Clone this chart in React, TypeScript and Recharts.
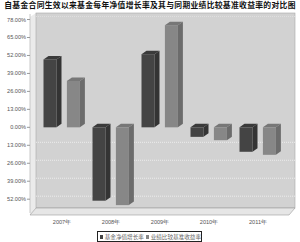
import { BarChart, Bar, XAxis, YAxis, CartesianGrid } from "recharts";

const years = ["2007年", "2008年", "2009年", "2010年", "2011年"];
const fundGrowth = [49.1, -53.1, 52.9, -6.9, -17.7];
const benchmark = [33.6, -56.3, 73.9, -9.3, -19.9];
const yTicks = [78, 65, 52, 39, 26, 13, 0, -13, -26, -39, -52];
const gridValues = [78, -13, -26, -39, -52];

const title = "自基金合同生效以来基金每年净值增长率及其与同期业绩比较基准收益率的对比图";
const seriesNames = ["基金净值增长率", "业绩比较基准收益率"];

const chartData = years.map((year, i) => ({
  year,
  fund: fundGrowth[i],
  bench: benchmark[i],
}));

const DX = 5;
const DY = 3.5;

function makeBox(front: string, top: string, side: string) {
  return (props: any) => {
    const { x, y, width, height } = props;
    const t = Math.min(y, y + height);
    const h = Math.abs(height);
    const w = width;
    return (
      <g>
        <rect x={x} y={t} width={w} height={h} fill={front} />
        <polygon
          points={`${x},${t} ${x + DX},${t - DY} ${x + w + DX},${t - DY} ${x + w},${t}`}
          fill={top}
        />
        <polygon
          points={`${x + w},${t} ${x + w + DX},${t - DY} ${x + w + DX},${t + h - DY} ${x + w},${t + h}`}
          fill={side}
        />
      </g>
    );
  };
}

const darkBox = makeBox("#444444", "#3a3a3a", "#343434");
const lightBox = makeBox("#878787", "#777777", "#6c6c6c");

const tickFont = { fontSize: 5.6, fill: "#555", fontFamily: "Liberation Sans, Arial, sans-serif" };

// grid lines sit on the back wall, a few px up from the front plane
const gridLine = (p: any) => {
  const isTop = p.index === 0;
  return (
    <line
      key={`g-${p.index}`}
      x1={36}
      y1={p.y1 - 3}
      x2={295}
      y2={p.y2 - 3}
      stroke={isTop ? "#e2e2e2" : "#f4f4f4"}
      strokeWidth={0.8}
      strokeDasharray="1 1"
    />
  );
};

export default function App() {
  return (
    <div style={{ position: "absolute", left: 0, top: 0, width: 300, height: 242, background: "#fff", overflow: "hidden" }}>
      <svg width={300} height={242} style={{ position: "absolute", left: 0, top: 0 }}>
        <polygon points="30,17 36,13 36,208 30,215" fill="#ebebeb" />
        <rect x={36} y={13} width={259} height={195} fill="#d2d2d2" stroke="#a8a8a8" strokeWidth={0.6} />
        <polygon points="30,215 36,208 295,208 289,215" fill="#e6e6e6" stroke="#9a9a9a" strokeWidth={0.6} />
      </svg>
      <div
        style={{
          position: "absolute",
          left: 0,
          top: 0,
          width: 300,
          textAlign: "center",
          fontFamily: "Noto Sans CJK SC",
          fontWeight: 700,
          fontSize: 7.8,
          letterSpacing: 0.3,
          lineHeight: "10px",
          color: "#111",
          whiteSpace: "nowrap",
        }}
      >
        {title}
      </div>
      <div style={{ position: "absolute", left: 0, top: 0 }}>
        <BarChart
          width={300}
          height={242}
          data={chartData}
          margin={{ top: 14, right: 10, left: 0, bottom: 0 }}
          barSize={13}
          barGap={10.4}
        >
          <CartesianGrid
            vertical={false}
            horizontalValues={gridValues}
            horizontal={gridLine}
          />
          <XAxis
            dataKey="year"
            height={29}
            padding={{ left: 7.5, right: 7.5 }}
            tickLine={false}
            axisLine={false}
            tickSize={0}
            tickMargin={7}
            tick={tickFont}
            interval={0}
          />
          <YAxis
            width={30}
            domain={[-62, 82]}
            ticks={yTicks}
            interval={0}
            tickSize={3}
            tickMargin={1}
            tick={tickFont}
            tickLine={{ stroke: "#999" }}
            axisLine={{ stroke: "#c8c8c8" }}
            tickFormatter={(v: number) => `${Math.abs(v).toFixed(2)}%`}
          />
          <Bar dataKey="fund" shape={darkBox} isAnimationActive={false} />
          <Bar dataKey="bench" shape={lightBox} isAnimationActive={false} />
        </BarChart>
      </div>
      <div
        style={{
          position: "absolute",
          left: 97,
          top: 231,
          width: 105,
          height: 11,
          border: "1px solid #222",
          boxSizing: "border-box",
          display: "flex",
          alignItems: "center",
          fontFamily: "Noto Sans CJK SC",
          fontSize: 5.6,
          color: "#666",
          whiteSpace: "nowrap",
          paddingLeft: 2,
        }}
      >
        <span style={{ display: "inline-block", width: 4, height: 4, background: "#444", marginRight: 1.5 }} />
        <span style={{ marginRight: 2 }}>{seriesNames[0]}</span>
        <span style={{ display: "inline-block", width: 4, height: 4, background: "#878787", marginRight: 1.5 }} />
        <span>{seriesNames[1]}</span>
      </div>
    </div>
  );
}
